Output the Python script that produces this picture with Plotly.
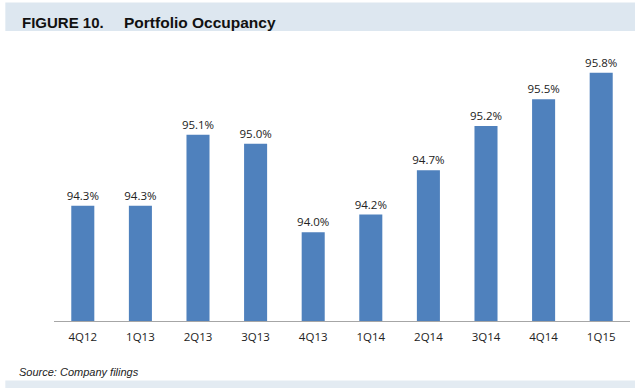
import plotly.graph_objects as go

categories = ["4Q12", "1Q13", "2Q13", "3Q13", "4Q13", "1Q14", "2Q14", "3Q14", "4Q14", "1Q15"]
occupancy = [94.3, 94.3, 95.1, 95.0, 94.0, 94.2, 94.7, 95.2, 95.5, 95.8]
labels = [f"{v:.1f}%" for v in occupancy]

W, H = 635, 388
L, R, T, B = 53.7, 5, 55.4, 66.5
pw, ph = W - L - R, H - T - B

def px(x):
    return (x - L) / pw

def py(y):
    return 1 - (y - T) / ph

fig = go.Figure(go.Bar(
    x=categories, y=occupancy, text=labels, textposition="outside",
    constraintext="none",
    textfont=dict(family="Open Sans", size=11.5, color="#222222"),
    marker=dict(color="#4f81bd", line=dict(width=0)),
    cliponaxis=False,
))

shapes = [
    dict(type="rect", xref="paper", yref="paper", x0=px(5), x1=px(640), y0=py(3), y1=py(31.5),
         fillcolor="#dde7f0", line=dict(width=0), layer="below"),
    dict(type="rect", xref="paper", yref="paper", x0=px(5), x1=px(640), y0=py(381), y1=py(392),
         fillcolor="#e3ebf2", line=dict(width=0), layer="below"),
]

annotations = [
    dict(text="<b>FIGURE 10.</b>", xref="paper", yref="paper", x=px(19.5), y=py(22.5),
         xanchor="left", yanchor="middle", showarrow=False,
         font=dict(family="Liberation Sans", size=15, color="#111111")),
    dict(text="<b>Portfolio Occupancy</b>", xref="paper", yref="paper", x=px(122), y=py(22.5),
         xanchor="left", yanchor="middle", showarrow=False,
         font=dict(family="Liberation Sans", size=15.5, color="#111111")),
    dict(text="<i>Source: Company filings</i>", xref="paper", yref="paper", x=px(16.5), y=py(373),
         xanchor="left", yanchor="middle", showarrow=False,
         font=dict(family="Liberation Sans", size=11, color="#222222")),
]

fig.update_layout(
    width=W, height=H,
    margin=dict(l=L, r=R, t=T, b=B, pad=0),
    paper_bgcolor="white", plot_bgcolor="white",
    bargap=0.6,
    showlegend=False,
    shapes=shapes,
    annotations=annotations,
    xaxis=dict(showgrid=False, showline=True, linecolor="#a6a6a6", linewidth=1,
               ticks="outside", ticklen=5, tickcolor="rgba(0,0,0,0)",
               tickfont=dict(family="Open Sans", size=11.5, color="#222222")),
    yaxis=dict(range=[93, 96], visible=False, showgrid=False, fixedrange=True),
)

fig.write_html("out.html", config={"displayModeBar": False},
               post_script="document.body.style.margin='0';document.body.style.overflow='hidden';")
